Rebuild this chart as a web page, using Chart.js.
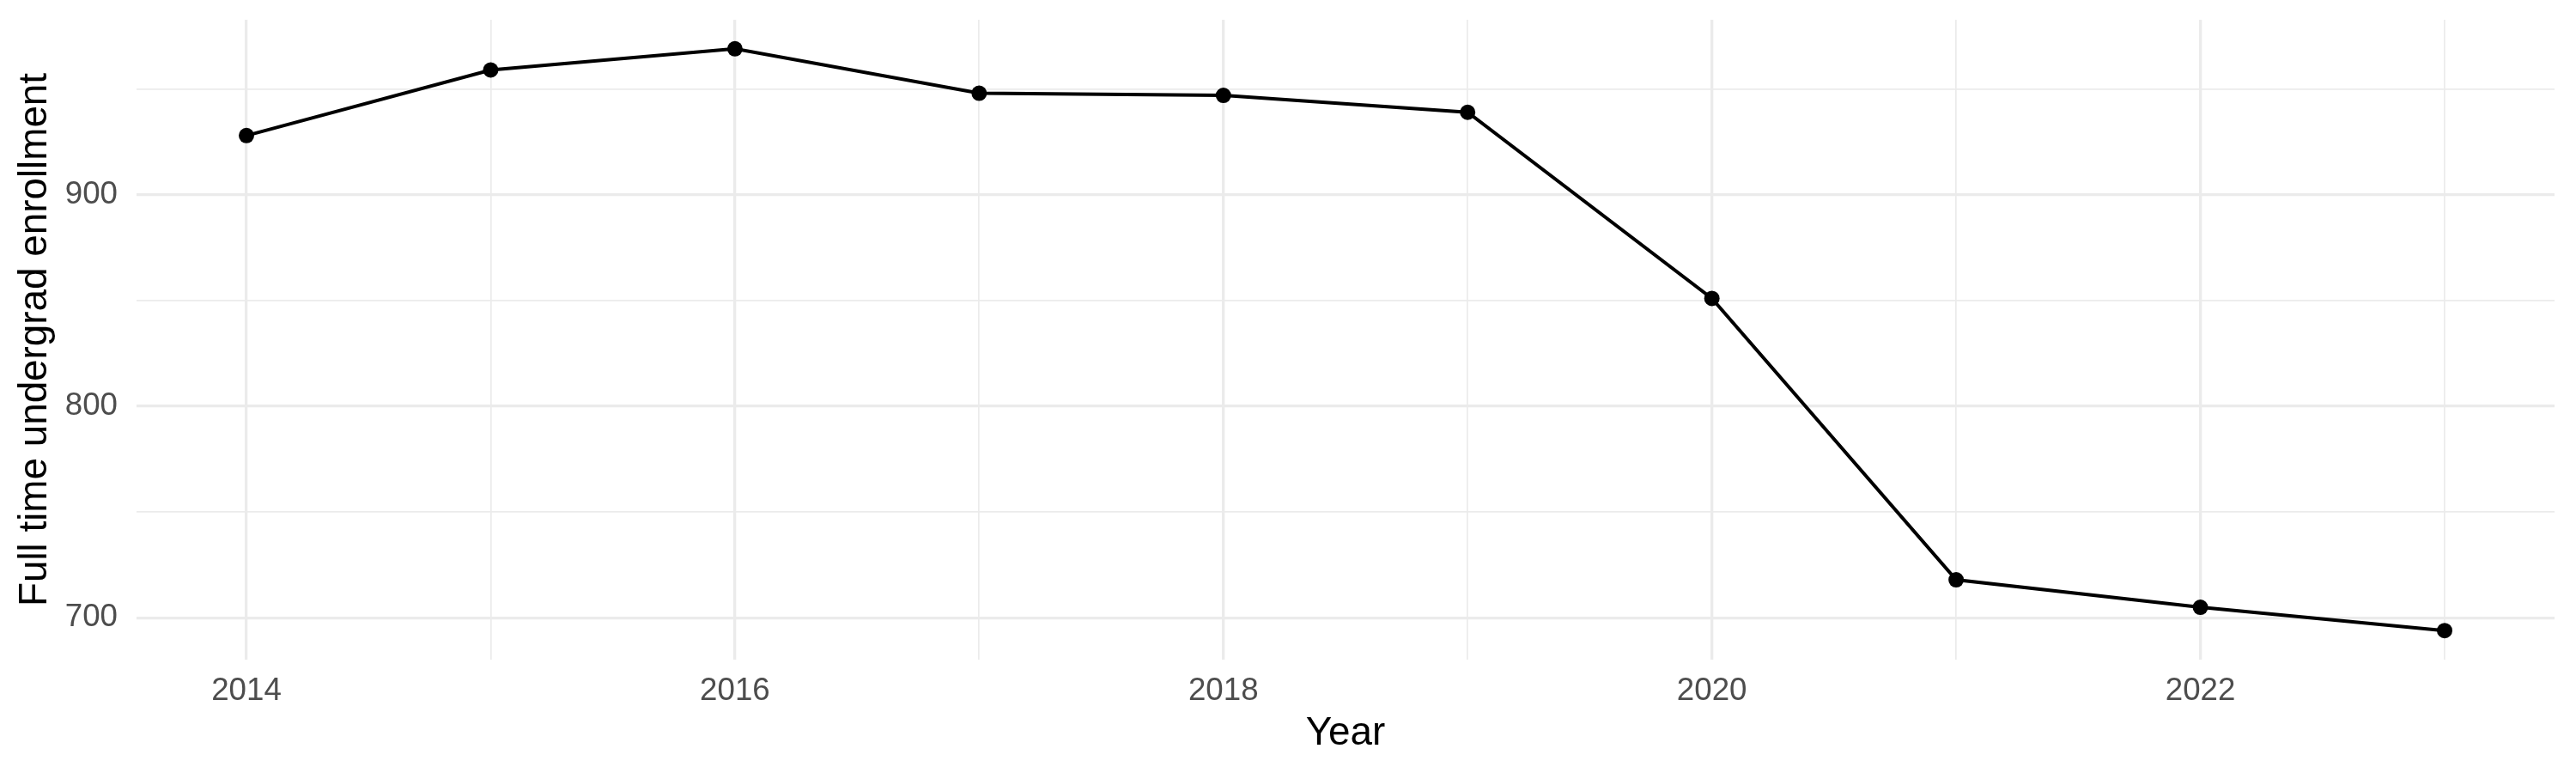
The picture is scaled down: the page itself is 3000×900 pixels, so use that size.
<!DOCTYPE html>
<html lang="en">
	<head>
		<meta charset="UTF-8" />
		<title>Full time undergrad enrollment</title>
		<script src="https://cdn.jsdelivr.net/npm/chart.js@4"></script>
		<style>
			html, body { margin: 0; padding: 0; background: #ffffff; }
		</style>
	</head>
	<body>
		<canvas id="myChart" width="3000" height="900"></canvas>

		<script>
			// values
			const years = [2014, 2015, 2016, 2017, 2018, 2019, 2020, 2021, 2022, 2023];
			const enrollment = [928, 959, 969, 948, 947, 939, 851, 718, 705, 694];
			const xTicks = [2014, 2015, 2016, 2017, 2018, 2019, 2020, 2021, 2022, 2023];
			const yTicks = [700, 750, 800, 850, 900, 950];

			// ggplot style 5% expansion of the data range
			const xPad = (Math.max(...years) - Math.min(...years)) * 0.05;
			const yPad = (Math.max(...enrollment) - Math.min(...enrollment)) * 0.05;

			const FONT = "'Liberation Sans', Arial, Helvetica, sans-serif";
			const GRID = "#EBEBEB";

			const points = years.map((x, i) => ({ x, y: enrollment[i] }));

			new Chart(document.getElementById("myChart").getContext("2d"), {
				type: "line",
				data: {
					datasets: [
						{
							data: points,
							borderColor: "#000000",
							borderWidth: 4,
							backgroundColor: "#000000",
							pointRadius: 9,
							pointBorderWidth: 0,
							pointHoverRadius: 9,
							tension: 0,
						},
					],
				},
				options: {
					responsive: false,
					devicePixelRatio: 1,
					animation: false,
					layout: { padding: { top: 23, right: 25, left: 0, bottom: 0 } },
					plugins: {
						legend: { display: false },
						tooltip: { enabled: false },
					},
					scales: {
						x: {
							type: "linear",
							position: "bottom",
							min: Math.min(...years) - xPad,
							max: Math.max(...years) + xPad,
							afterBuildTicks: (scale) => {
								scale.ticks = xTicks.map((value) => ({ value }));
							},
							afterFit: (scale) => {
								scale.height = 132;
								scale.paddingLeft = 0;
								scale.paddingRight = 0;
							},
							border: { display: false },
							grid: {
								color: GRID,
								drawTicks: false,
								lineWidth: (ctx) => (ctx.tick && ctx.tick.value % 2 === 0 ? 3.3 : 1.7),
							},
							ticks: {
								padding: 15,
								color: "#4D4D4D",
								font: { family: FONT, size: 36.7 },
								maxRotation: 0,
								autoSkip: false,
								callback: (v) => (v % 2 === 0 ? String(v) : ""),
							},
							title: {
								display: true,
								text: "Year",
								color: "#000000",
								font: { family: FONT, size: 45.8 },
								padding: { top: 0, bottom: 18 },
							},
						},
						y: {
							type: "linear",
							min: Math.min(...enrollment) - yPad,
							max: Math.max(...enrollment) + yPad,
							afterBuildTicks: (scale) => {
								scale.ticks = yTicks.map((value) => ({ value }));
							},
							afterFit: (scale) => {
								scale.width = 159;
								scale.paddingTop = 0;
								scale.paddingBottom = 0;
							},
							border: { display: false },
							grid: {
								color: GRID,
								drawTicks: false,
								lineWidth: (ctx) => (ctx.tick && ctx.tick.value % 100 === 0 ? 3.3 : 1.7),
							},
							ticks: {
								padding: 22,
								color: "#4D4D4D",
								font: { family: FONT, size: 36.7 },
								autoSkip: false,
								callback: (v) => (v % 100 === 0 ? String(v) : ""),
							},
							title: {
								display: true,
								text: "Full time undergrad enrollment",
								color: "#000000",
								font: { family: FONT, size: 45.8 },
								padding: { top: 14, bottom: 0 },
							},
						},
					},
				},
			});
		</script>
	</body>
</html>
